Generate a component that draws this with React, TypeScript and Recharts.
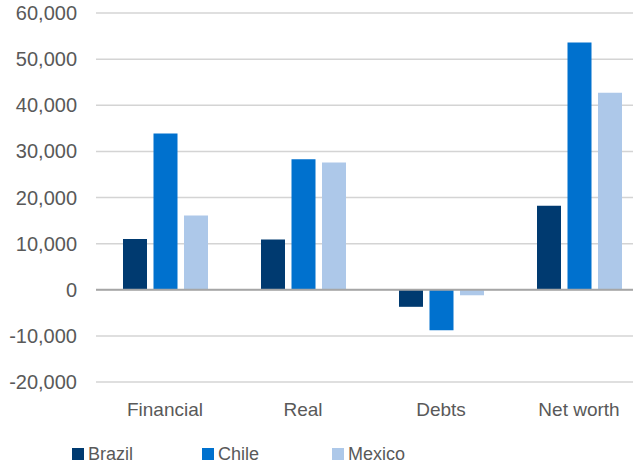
import React from 'react';
import { BarChart, Bar, XAxis, YAxis, CartesianGrid, Legend, ReferenceLine } from 'recharts';

const categories = ['Financial', 'Real', 'Debts', 'Net worth'];
const brazil = [11000, 10900, -3700, 18200];
const chile = [33900, 28300, -8800, 53600];
const mexico = [16100, 27600, -1200, 42700];
const yTicks = [-20000, -10000, 0, 10000, 20000, 30000, 40000, 50000, 60000];

const seriesNames = ['Brazil', 'Chile', 'Mexico'];
const colors = ['#003A70', '#0071CE', '#ADC8E9'];

const data = categories.map((c, i) => ({
  name: c,
  Brazil: brazil[i],
  Chile: chile[i],
  Mexico: mexico[i],
}));

const FONT = '"Liberation Sans", Arial, sans-serif';
const TEXT = '#595959';

const LegendContent = (props: any) => {
  const payload = props.payload || [];
  return (
    <div style={{ display: 'flex', height: 24, alignItems: 'center', paddingLeft: 72, fontFamily: FONT }}>
      {payload.map((p: any) => (
        <div key={p.value} style={{ display: 'flex', alignItems: 'center', width: 130 }}>
          <span style={{ display: 'inline-block', width: 12, height: 12, background: p.color, marginRight: 4 }} />
          <span style={{ fontSize: 18, color: TEXT, lineHeight: '24px' }}>{p.value}</span>
        </div>
      ))}
    </div>
  );
};

export default function App() {
  return (
    <div style={{ position: 'fixed', left: 0, top: 0, width: 633, height: 466, overflow: 'hidden', background: '#fff' }}>
      <BarChart
        width={648}
        height={466}
        data={data}
        margin={{ top: 13, right: 0, left: 0, bottom: 0 }}
        barSize={24}
        barGap={6.5}
      >
        <CartesianGrid vertical={false} stroke="#d4d4d4" strokeWidth={1.5} />
        <XAxis
          dataKey="name"
          axisLine={false}
          tickLine={false}
          tickSize={0}
          tickMargin={21}
          height={60}
          tick={{ fill: TEXT, fontSize: 19, fontFamily: FONT }}
          interval={0}
        />
        <YAxis
          width={96}
          domain={[-20000, 60000]}
          ticks={yTicks}
          axisLine={false}
          tickLine={false}
          tickSize={0}
          tickMargin={19}
          tick={{ fill: TEXT, fontSize: 20, fontFamily: FONT }}
          tickFormatter={(v: number) => v.toLocaleString('en-US')}
          interval={0}
        />
        <ReferenceLine y={0} stroke="#a6a6a6" strokeWidth={2} />
        <Legend verticalAlign="bottom" align="left" content={<LegendContent />} />
        {seriesNames.map((s, i) => (
          <Bar key={s} dataKey={s} fill={colors[i]} isAnimationActive={false} />
        ))}
      </BarChart>
    </div>
  );
}
